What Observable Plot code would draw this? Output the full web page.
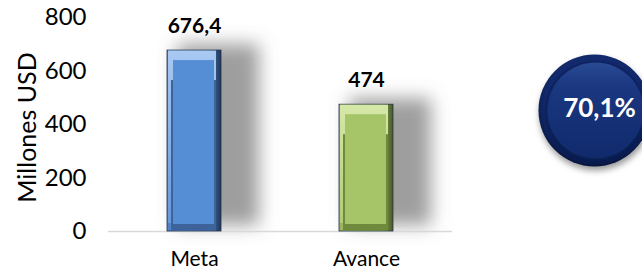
<!DOCTYPE html>
<html>
<head>
<meta charset="utf-8">
<script src="https://cdn.jsdelivr.net/npm/d3@7"></script>
<script src="https://cdn.jsdelivr.net/npm/@observablehq/plot@0.6"></script>
<style>
  html, body { margin: 0; padding: 0; background: #fff; overflow: hidden; }
</style>
</head>
<body>
<div id="chart"></div>
<script>
const categories = ["Meta", "Avance"];
const values = [676.4, 474];
const yTicks = [0, 200, 400, 600, 800];
const faceColors = ["#568ed6", "#a6c468"];
const gradIds = ["gBlue", "gGreen"];
const topGradIds = ["gBlueTop", "gGreenTop"];
const bottomColors = ["#3d639a", "#6f8a3c"];

const fmt = v => String(v).replace(".", ",");
const data = categories.map((c, i) => ({cat: c, value: values[i], label: fmt(values[i]), i}));
const pct = values[1] / values[0] * 100;
const pctLabel = fmt(pct.toFixed(1)) + "%";

const defs = () => {
  const s = d3.create("svg:defs");
  const addLin = (id, stops, x2 = "100%", y2 = "0%") => {
    const g = s.append("linearGradient").attr("id", id).attr("x1", "0%").attr("y1", "0%").attr("x2", x2).attr("y2", y2);
    stops.forEach(([o, c]) => g.append("stop").attr("offset", o).attr("stop-color", c));
  };
  addLin("gBlue", [["0%", "#4f80c4"], ["12%", "#5387cf"], ["80%", "#4672ad"], ["100%", "#1f3658"]]);
  addLin("gGreen", [["0%", "#95b25c"], ["12%", "#a0bd64"], ["80%", "#86a24f"], ["100%", "#4a5a28"]]);
  addLin("gBlueTop", [["0%", "#a9c9f2"], ["100%", "#6598dc"]], "0%", "100%");
  addLin("gGreenTop", [["0%", "#d6e8a8"], ["100%", "#b0cc76"]], "0%", "100%");
  const r = s.append("radialGradient").attr("id", "gCircle").attr("cx", "50%").attr("cy", "45%").attr("r", "55%");
  [["0%", "#15307a"], ["80%", "#122a6c"], ["92%", "#0b1f55"], ["100%", "#06143a"]]
    .forEach(([o, c]) => r.append("stop").attr("offset", o).attr("stop-color", c));
  addLin("gCircleIn", [["0%", "#2a4a94"], ["25%", "#1a3780"], ["100%", "#102a6c"]], "0%", "100%");
  const f = s.append("filter").attr("id", "blur").attr("x", "-50%").attr("y", "-50%").attr("width", "200%").attr("height", "200%");
  f.append("feGaussianBlur").attr("stdDeviation", 9);
  const f2 = s.append("filter").attr("id", "blur2").attr("x", "-50%").attr("y", "-50%").attr("width", "200%").attr("height", "200%");
  f2.append("feGaussianBlur").attr("stdDeviation", 3);
  const f3 = s.append("filter").attr("id", "blur3").attr("x", "-50%").attr("y", "-50%").attr("width", "200%").attr("height", "200%");
  f3.append("feGaussianBlur").attr("stdDeviation", 1.5);
  return s.node();
};

const barMarks = [];
data.forEach((d, i) => {
  barMarks.push(Plot.barY([d], {x: "cat", y: "value", fill: `url(#${gradIds[i]})`, stroke: "#24324a", strokeWidth: 0.8}));
  barMarks.push(Plot.barY([d], {x: "cat", y: "value", fill: `url(#${topGradIds[i]})`, insetLeft: 1, insetRight: 5, insetTop: 0.5, insetBottom: 8}));
  barMarks.push(Plot.barY([d], {x: "cat", y: "value", fill: bottomColors[i], insetLeft: 4, insetRight: 5, insetTop: 30, insetBottom: 0.5}));
  barMarks.push(Plot.barY([d], {x: "cat", y: "value", fill: faceColors[i], insetLeft: 6, insetRight: 7, insetTop: 10, insetBottom: 7}));
});

const chart = Plot.plot({
  width: 642,
  height: 272,
  marginLeft: 108,
  marginRight: 190,
  marginTop: 17,
  marginBottom: 41,
  style: {fontFamily: "Lato, sans-serif", color: "#000", background: "#fff"},
  x: {domain: categories, paddingInner: 0.686, paddingOuter: 0.343, label: null},
  y: {domain: [0, 800]},
  marks: [
    defs,
    Plot.barY(data, {x: "cat", y: "value", fill: "#6a6a6a", fillOpacity: 0.65, dx: 20, dy: -6, insetLeft: -10, insetRight: -18}),
    Plot.ruleY([0], {stroke: "#d9d9d9", strokeWidth: 1.5}),
    ...barMarks,
    Plot.axisX({tickSize: 0, tickPadding: 20, fontSize: 21, label: null}),
    Plot.axisY({ticks: yTicks, tickSize: 0, tickPadding: 22, fontSize: 24, label: null}),
    Plot.text(["Millones USD"], {x: null, y: null, text: d => d, frameAnchor: "left", textAnchor: "middle", dx: -81, dy: 3, rotate: -90, fontSize: 25, fill: "#000"}),
    Plot.text(data, {x: "cat", y: "value", text: "label", dy: -24, fontWeight: "bold", fontSize: 21, fill: "#000"}),
    Plot.dot([pctLabel], {x: null, y: null, frameAnchor: "right", dx: 143, dy: -10, r: 56, fill: "#000", fillOpacity: 0.4, stroke: "none"}),
    Plot.dot([pctLabel], {x: null, y: null, frameAnchor: "right", dx: 142, dy: -14, r: 56, fill: "url(#gCircle)"}),
    Plot.dot([pctLabel], {x: null, y: null, frameAnchor: "right", dx: 143, dy: -13, r: 48, fill: "none", stroke: "#061540", strokeWidth: 3, strokeOpacity: 0.6}),
    Plot.dot([pctLabel], {x: null, y: null, frameAnchor: "right", dx: 143, dy: -14, r: 48, fill: "url(#gCircleIn)"}),
    Plot.text([pctLabel], {x: null, y: null, text: d => d, frameAnchor: "right", textAnchor: "middle", dx: 147, dy: -16, fill: "#fff", fontWeight: "bold", fontSize: 26})
  ]
});

d3.select(chart).selectAll('g[fill="#6a6a6a"]').attr("filter", "url(#blur)");
d3.select(chart).selectAll('g[fill="#000"][fill-opacity="0.4"]').attr("filter", "url(#blur2)");
d3.select(chart).selectAll('g[stroke="#061540"]').attr("filter", "url(#blur3)");
document.getElementById("chart").appendChild(chart);
</script>
</body>
</html>
